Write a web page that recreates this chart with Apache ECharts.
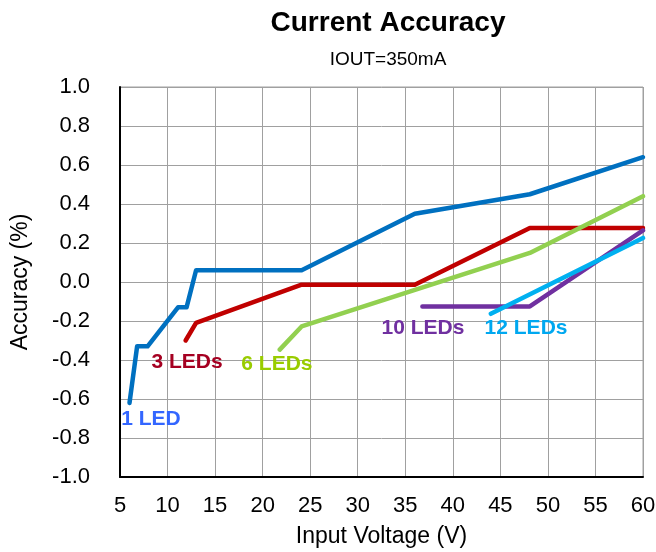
<!DOCTYPE html>
<html>
<head>
<meta charset="utf-8">
<script src="https://cdn.jsdelivr.net/npm/echarts@6/dist/echarts.min.js"></script>
<style>html,body{margin:0;padding:0;background:#fff}#c{width:656px;height:552px}</style>
</head>
<body>
<div id="c"></div>
<script>
const xTicks = [5,10,15,20,25,30,35,40,45,50,55,60];
const yTicks = [-1.0,-0.8,-0.6,-0.4,-0.2,0.0,0.2,0.4,0.6,0.8,1.0];
const seriesNames = ['1 LED','3 LEDs','6 LEDs','10 LEDs','12 LEDs'];
const led1 = [[6.0,-0.62],[6.8,-0.33],[7.9,-0.33],[11.1,-0.13],[12.0,-0.13],[13.0,0.06],[24.1,0.06],[36.0,0.35],[48.1,0.45],[60,0.64]];
const led3 = [[11.9,-0.30],[13.0,-0.21],[24.1,-0.014],[36.0,-0.014],[48.1,0.277],[60,0.277]];
const led6 = [[21.8,-0.347],[24.1,-0.228],[48.1,0.149],[60,0.44]];
const led10 = [[36.8,-0.125],[48.1,-0.125],[60,0.265]];
const led12 = [[44.0,-0.163],[60,0.226]];
const labelPos = [[8.26,-0.706],[12.05,-0.409],[21.5,-0.424],[36.86,-0.239],[47.7,-0.239]];
const lineColors = ['#0070c0','#c00000','#92d050','#7030a0','#00b0f0'];
const labelColors = ['#3366ff','#a50021','#99cc00','#7030a0','#00a8f0'];
const allData = [led1, led3, led6, led10, led12];

const chart = echarts.init(document.getElementById('c'), null, {renderer:'canvas'});
const F = '"Liberation Sans", Arial, sans-serif';
chart.setOption({
  animation:false,
  title:{text:'Current Accuracy', subtext:'IOUT=350mA', left:383, textAlign:'center', top:4,
    textStyle:{fontFamily:F, fontSize:28, fontWeight:'bold', color:'#000'},
    subtextStyle:{fontFamily:F, fontSize:19, color:'#000'}, itemGap:13},
  grid:{left:120, right:13, top:87, bottom:75, show:true, borderColor:'#a0a0a0', borderWidth:1, outerBoundsMode:'none', containLabel:false},
  xAxis:{type:'value', min:5, max:60, interval:5,
    name:'Input Voltage (V)', nameLocation:'middle', nameGap:48,
    nameTextStyle:{fontFamily:F, fontSize:23, color:'#000'},
    axisLine:{onZero:false, lineStyle:{color:'#000', width:2}}, axisTick:{show:false},
    axisLabel:{fontFamily:F, fontSize:22, color:'#000', margin:18},
    splitLine:{lineStyle:{color:'#a0a0a0', width:1}}},
  yAxis:{type:'value', min:-1, max:1, interval:0.2,
    name:'Accuracy (%)', nameLocation:'middle', nameGap:88,
    nameTextStyle:{fontFamily:F, fontSize:23, color:'#000'},
    axisLine:{show:true, onZero:false, lineStyle:{color:'#000', width:2}}, axisTick:{show:false},
    axisLabel:{fontFamily:F, fontSize:22, color:'#000', margin:30, formatter:v=>v.toFixed(1)},
    splitLine:{lineStyle:{color:'#a0a0a0', width:1}}},
  series: allData.map((d,i)=>({
    name:seriesNames[i], type:'line', data:d, symbol:'none',
    lineStyle:{color:lineColors[i], width:4.5, cap:'round', join:'round'},
    markPoint:{symbol:'circle', symbolSize:0, silent:true,
      data:[{coord:labelPos[i], value:seriesNames[i]}],
      label:{show:true, position:'inside', formatter:seriesNames[i], fontFamily:F, fontWeight:'bold', fontSize:21, color:labelColors[i]}}
  }))
});
</script>
</body>
</html>
